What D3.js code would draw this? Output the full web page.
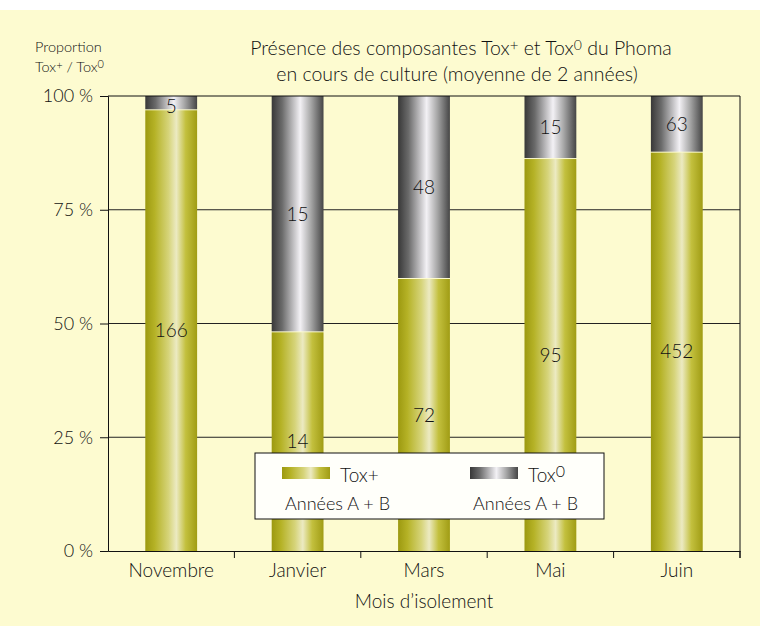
<!DOCTYPE html>
<html>
<head>
<meta charset="utf-8">
<script src="https://cdn.jsdelivr.net/npm/d3@7"></script>
<style>
  body { margin: 0; background: #fff; }
  svg { display: block; }
  text { font-family: Lato, "Liberation Sans", sans-serif; font-weight: 300; fill: #111; }
</style>
</head>
<body>
<svg id="chart" width="760" height="626"></svg>
<script>
// data
var months = ["Novembre", "Janvier", "Mars", "Mai", "Juin"];
var toxPlus = [166, 14, 72, 95, 452];
var toxZero = [5, 15, 48, 15, 63];
var yTicks = [0, 25, 50, 75, 100];

var svg = d3.select("#chart");
var plotL = 108, plotR = 740, plotT = 96, plotB = 551;

// background
svg.append("rect").attr("x", 0).attr("y", 10).attr("width", 760).attr("height", 616)
  .attr("fill", "#fdfbd0");

// gradients
var defs = svg.append("defs");
function grad(id, stops) {
  var g = defs.append("linearGradient").attr("id", id)
    .attr("x1", "0%").attr("x2", "100%").attr("y1", "0%").attr("y2", "0%");
  stops.forEach(function(s) {
    g.append("stop").attr("offset", s[0]).attr("stop-color", s[1]);
  });
}
grad("olive", [["0%", "#9c9910"], ["18%", "#b5b226"], ["45%", "#d6d47a"], ["60%", "#eceac2"], ["78%", "#c3c03e"], ["100%", "#a09c14"]]);
grad("grey", [["0%", "#383838"], ["20%", "#6a6a6a"], ["55%", "#f3f1f5"], ["75%", "#a9a9a9"], ["100%", "#454545"]]);

var x = d3.scaleBand().domain(months).range([plotL, plotR])
  .paddingInner(0.59).paddingOuter(0.295);
var y = d3.scaleLinear().domain([0, 100]).range([plotB, plotT]);

// gridlines
svg.append("g").selectAll("line")
  .data(yTicks.filter(function(d) { return d > 0 && d < 100; }))
  .enter().append("line")
  .attr("x1", plotL).attr("x2", plotR)
  .attr("y1", function(d) { return y(d); }).attr("y2", function(d) { return y(d); })
  .attr("stroke", "#222").attr("stroke-width", 1);

// bars
var rows = months.map(function(m, i) {
  var tot = toxPlus[i] + toxZero[i];
  return { m: m, plus: toxPlus[i], zero: toxZero[i], p: toxPlus[i] / tot * 100 };
});

var bars = svg.append("g").selectAll("g").data(rows).enter().append("g");
bars.append("rect")
  .attr("x", function(d) { return x(d.m); })
  .attr("width", x.bandwidth())
  .attr("y", y(100))
  .attr("height", function(d) { return y(d.p) - y(100); })
  .attr("fill", "url(#grey)");
bars.append("rect")
  .attr("x", function(d) { return x(d.m); })
  .attr("width", x.bandwidth())
  .attr("y", function(d) { return y(d.p) + 1; })
  .attr("height", function(d) { return y(0) - y(d.p) - 1; })
  .attr("fill", "url(#olive)");

// value labels
bars.append("text")
  .attr("x", function(d) { return x(d.m) + x.bandwidth() / 2; })
  .attr("y", function(d) { return Math.max((y(100) + y(d.p)) / 2, y(100) + 10) + 7; })
  .attr("text-anchor", "middle").attr("font-size", 19)
  .text(function(d) { return d.zero; });
bars.append("text")
  .attr("x", function(d) { return x(d.m) + x.bandwidth() / 2; })
  .attr("y", function(d) { return (y(0) + y(d.p)) / 2 + 7; })
  .attr("text-anchor", "middle").attr("font-size", 19)
  .text(function(d) { return d.plus; });

// frame
svg.append("path")
  .attr("d", "M" + plotL + "," + plotT + "H" + plotR + "V" + (plotB + 7))
  .attr("fill", "none").attr("stroke", "#111");

// y axis
var yAxis = svg.append("g").attr("transform", "translate(" + plotL + ",0)")
  .call(d3.axisLeft(y).tickValues(yTicks).tickSize(8).tickPadding(7)
    .tickFormat(function(d) { return d + " %"; }));
yAxis.select(".domain").attr("stroke", "#111");
yAxis.selectAll(".tick line").attr("stroke", "#111");
yAxis.selectAll("text").attr("font-size", 18).attr("font-family", null).attr("fill", null);

// x axis
var xAxis = svg.append("g").attr("transform", "translate(0," + plotB + ")")
  .call(d3.axisBottom(x).tickSize(0).tickPadding(13).tickSizeOuter(0));
xAxis.select(".domain").attr("stroke", "#111");
xAxis.selectAll("text").attr("font-size", 19).attr("font-family", null).attr("fill", null);
xAxis.selectAll(".sep").data(months).enter().append("line")
  .attr("x1", function(d) { return x(d) + x.bandwidth() / 2 + x.step() / 2; })
  .attr("x2", function(d) { return x(d) + x.bandwidth() / 2 + x.step() / 2; })
  .attr("y1", 0).attr("y2", 7).attr("stroke", "#111");

svg.append("text").attr("x", (plotL + plotR) / 2).attr("y", 608)
  .attr("text-anchor", "middle").attr("font-size", 19).text("Mois d\u2019isolement");

// titles
var t1 = svg.append("text").attr("x", 461).attr("y", 55).attr("text-anchor", "middle").attr("font-size", 19.5);
t1.append("tspan").text("Présence des composantes Tox");
t1.append("tspan").attr("baseline-shift", "25%").attr("font-size", 15).text("+");
t1.append("tspan").text(" et Tox");
t1.append("tspan").attr("baseline-shift", "35%").attr("font-size", 14).text("0");
t1.append("tspan").text(" du Phoma");
svg.append("text").attr("x", 457).attr("y", 81).attr("text-anchor", "middle").attr("font-size", 19.5)
  .text("en cours de culture (moyenne de 2 années)");

var yl = svg.append("g");
yl.append("text").attr("x", 35).attr("y", 52).attr("font-size", 14.5).text("Proportion");
var yl2 = yl.append("text").attr("x", 35).attr("y", 72).attr("font-size", 14.5);
yl2.append("tspan").text("Tox");
yl2.append("tspan").attr("baseline-shift", "30%").attr("font-size", 11).text("+");
yl2.append("tspan").text(" / Tox");
yl2.append("tspan").attr("baseline-shift", "35%").attr("font-size", 11).text("0");

// legend
var lg = svg.append("g");
lg.append("rect").attr("x", 255).attr("y", 453).attr("width", 349).attr("height", 66)
  .attr("fill", "#fffffa").attr("stroke", "#111");
var legItems = [{ fill: "url(#olive)", name: "Tox", sup: "+", x: 282 }, { fill: "url(#grey)", name: "Tox", sup: "0", x: 470 }];
legItems.forEach(function(d, i) {
  lg.append("rect").attr("x", d.x).attr("y", 467).attr("width", 48).attr("height", 12).attr("fill", d.fill);
  var t = lg.append("text").attr("x", d.x + 58).attr("y", 482).attr("font-size", 19);
  t.append("tspan").text(d.name);
  if (i === 0) t.append("tspan").text(d.sup);
  else t.append("tspan").attr("baseline-shift", "30%").attr("font-size", 16).text(d.sup);
  lg.append("text").attr("x", d.x + 3).attr("y", 510).attr("font-size", 18).text("Années A + B");
});
</script>
</body>
</html>
